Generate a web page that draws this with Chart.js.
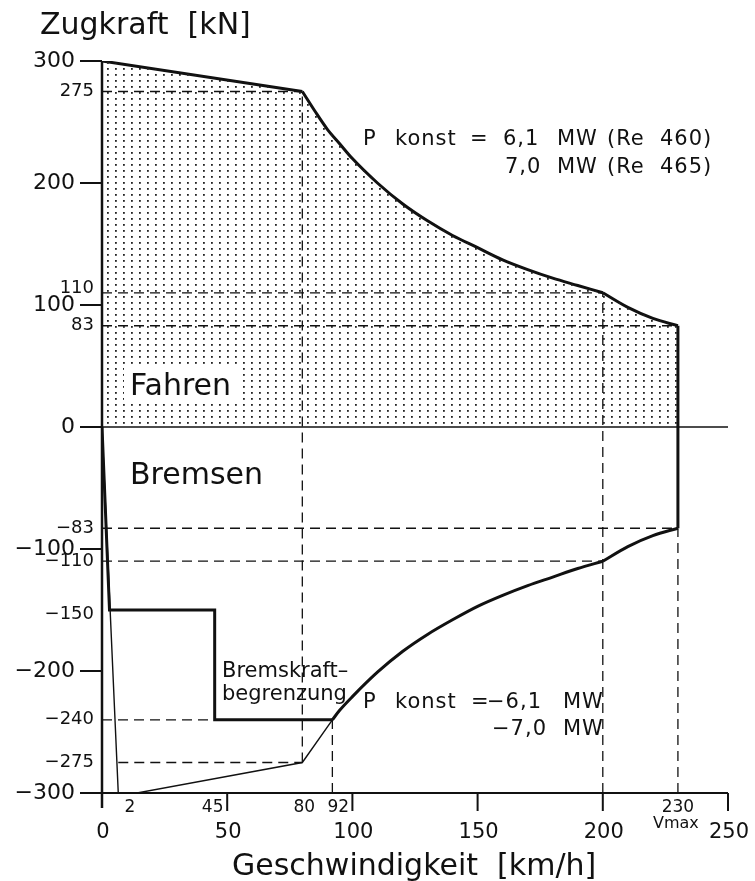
<!DOCTYPE html>
<html>
<head>
<meta charset="utf-8">
<script src="https://cdn.jsdelivr.net/npm/chart.js@4"></script>
<style>
  html, body { margin: 0; padding: 0; background: #fff; }
  #wrap { width: 755px; height: 881px; }
</style>
</head>
<body>
<div id="wrap"><canvas id="chart" width="755" height="881"></canvas></div>
<script>
// Zugkraft / Bremskraft over speed (Re 460 / Re 465)
const speedTicks = [0, 50, 100, 150, 200, 250];
const forceTicks = [300, 200, 100, 0, -100, -200, -300];
const forceMarks = [275, 110, 83, -83, -110, -150, -240, -275];
const speedMarks = [2, 45, 80, 92, 230];

// driving (Fahren): straight part, P konst curve, last part to vmax
const driveLineSpeed = [0, 80];
const driveLineForce = [300, 275];
const driveCurveSpeed = [80, 85, 90, 95, 100, 110, 120, 130, 140, 150, 160, 170, 180, 190, 200];
const driveCurveForce = [275, 259, 244, 232, 220, 200, 183, 169, 157, 147, 137, 129, 122, 116, 110];
const driveTopSpeed = [200, 210, 220, 230];
const driveTopForce = [110, 98, 89, 83];

// braking (Bremsen)
const brakeLimitSpeed = [0, 3, 45, 45, 92];
const brakeLimitForce = [0, -150, -150, -240, -240];
const brakeCurveSpeed = [92, 95, 100, 110, 120, 130, 140, 150, 160, 170, 180, 190, 200];
const brakeCurveForce = [-240, -232, -221, -201, -184, -170, -158, -147, -138, -130, -123, -116, -110];
const brakeTopSpeed = [200, 210, 220, 230];
const brakeTopForce = [-110, -98, -89, -83];
const vmaxEdgeSpeed = [230, 230];
const vmaxEdgeForce = [83, -83];

// thin line under the limit
const thinSpeed = [0, 6.5, 14, 80, 92];
const thinForce = [0, -300, -300, -275, -240];

// dashed helper lines: [force, fromSpeed, toSpeed] and [speed, fromForce, toForce]
const dashH = [[275, 0, 80], [110, 0, 200], [83, 0, 230], [-83, 0, 230], [-110, 0, 200], [-240, 0, 45], [-275, 6.5, 80]];
const dashV = [[80, -275, 275], [200, -300, 110], [230, -300, -83], [92, -300, -240]];

const INK = "#111";
const FONT = '"DejaVu Sans", sans-serif';

function zip(xs, ys) {
  return xs.map((x, i) => ({ x, y: ys[i] }));
}

// dotted fill
function dotPattern() {
  const c = document.createElement("canvas");
  c.width = 8; c.height = 6;
  const g = c.getContext("2d");
  g.fillStyle = "#222";
  g.fillRect(3, 2, 1.8, 1.8);
  return g.createPattern(c, "repeat");
}

const datasets = [];
// area only
datasets.push({
  data: zip(driveLineSpeed.concat(driveCurveSpeed.slice(1), driveTopSpeed.slice(1)),
            driveLineForce.concat(driveCurveForce.slice(1), driveTopForce.slice(1))),
  borderWidth: 0, borderColor: "rgba(0,0,0,0)",
  backgroundColor: dotPattern(), fill: "origin"
});
function thick(xs, ys, smooth) {
  datasets.push({
    data: zip(xs, ys), borderColor: INK, borderWidth: 3, fill: false,
    cubicInterpolationMode: smooth ? "monotone" : "default"
  });
}
thick(driveLineSpeed, driveLineForce, false);
thick(driveCurveSpeed, driveCurveForce, true);
thick(driveTopSpeed, driveTopForce, true);
thick(vmaxEdgeSpeed, vmaxEdgeForce, false);
thick(brakeTopSpeed, brakeTopForce, true);
thick(brakeCurveSpeed, brakeCurveForce, true);
thick(brakeLimitSpeed, brakeLimitForce, false);
datasets.push({ data: zip(thinSpeed, thinForce), borderColor: INK, borderWidth: 1.4, fill: false });
dashH.forEach(([f, a, b]) => {
  datasets.push({ data: [{ x: a, y: f }, { x: b, y: f }], borderColor: INK, borderWidth: 1.3, borderDash: [10, 6], fill: false });
});
dashV.forEach(([v, a, b]) => {
  datasets.push({ data: [{ x: v, y: a }, { x: v, y: b }], borderColor: INK, borderWidth: 1.3, borderDash: [10, 6], fill: false });
});

function words(ctx, list, y) {
  list.forEach(([t, x]) => ctx.fillText(t, x, y));
}

const decor = {
  id: "decor",
  afterDraw(chart) {
    const ctx = chart.ctx;
    const xs = chart.scales.x, ys = chart.scales.y;
    const x0 = xs.getPixelForValue(0), xEnd = xs.getPixelForValue(250);
    const yBot = ys.getPixelForValue(-300), yZero = ys.getPixelForValue(0);
    ctx.save();
    ctx.strokeStyle = INK;
    ctx.fillStyle = INK;

    // axes
    ctx.lineWidth = 2.5;
    ctx.beginPath();
    ctx.moveTo(x0, ys.getPixelForValue(300));
    ctx.lineTo(x0, yBot + 15);
    ctx.stroke();
    ctx.lineWidth = 2;
    ctx.beginPath();
    ctx.moveTo(x0 - 22, yBot);
    ctx.lineTo(xEnd, yBot);
    ctx.stroke();
    ctx.lineWidth = 1.5;
    ctx.beginPath();
    ctx.moveTo(x0 - 22, yZero);
    ctx.lineTo(xEnd, yZero);
    ctx.stroke();

    // tick marks
    ctx.lineWidth = 2;
    forceTicks.forEach(v => {
      const y = ys.getPixelForValue(v);
      ctx.beginPath(); ctx.moveTo(x0 - 22, y); ctx.lineTo(x0, y); ctx.stroke();
    });
    speedTicks.slice(1).forEach(v => {
      const x = xs.getPixelForValue(v);
      ctx.beginPath(); ctx.moveTo(x, yBot); ctx.lineTo(x, yBot + 18); ctx.stroke();
    });

    // y labels
    ctx.textAlign = "right";
    ctx.textBaseline = "middle";
    ctx.font = "22px " + FONT;
    forceTicks.forEach(v => ctx.fillText(String(v).replace("-", "\u2212"), 75, ys.getPixelForValue(v)));
    ctx.font = "18px " + FONT;
    forceMarks.forEach(v => {
      const dy = v === -150 ? 4 : (v === 110 ? -4 : 0);
      ctx.fillText(String(v).replace("-", "\u2212"), 94, ys.getPixelForValue(v) + dy);
    });

    // x labels
    ctx.textAlign = "center";
    ctx.textBaseline = "alphabetic";
    ctx.font = "21px " + FONT;
    speedTicks.forEach(v => ctx.fillText(String(v), xs.getPixelForValue(v) + 1, 838));
    ctx.font = "17px " + FONT;
    const markShift = { 2: 23, 45: -2, 80: 2, 92: 6, 230: 0 };
    speedMarks.forEach(v => ctx.fillText(String(v), xs.getPixelForValue(v) + markShift[v], 812));
    ctx.font = "16px " + FONT;
    ctx.fillText("Vmax", xs.getPixelForValue(230) - 2, 828);

    // titles
    ctx.textAlign = "left";
    ctx.font = "30px " + FONT;
    ctx.fillText("Zugkraft  [kN]", 40, 34);
    ctx.fillText("Geschwindigkeit  [km/h]", 232, 875);

    // region labels
    const fw = ctx.measureText("Fahren").width;
    ctx.fillStyle = "#fff";
    ctx.fillRect(124, 366, fw + 12, 35);
    ctx.fillStyle = INK;
    ctx.fillText("Fahren", 130, 395);
    ctx.fillText("Bremsen", 130, 484);

    // annotations
    ctx.letterSpacing = "1px";
    ctx.font = "21px " + FONT;
    words(ctx, [["P", 363], ["konst", 395], ["=", 470], ["6,1", 503], ["MW", 557], ["(Re", 607], ["460)", 660]], 145);
    words(ctx, [["7,0", 505], ["MW", 557], ["(Re", 607], ["465)", 660]], 173);
    words(ctx, [["P", 363], ["konst", 395], ["=", 471], ["\u22126,1", 487], ["MW", 563]], 708);
    words(ctx, [["\u22127,0", 492], ["MW", 563]], 735);
    ctx.letterSpacing = "0px";
    ctx.font = "21px " + FONT;
    ctx.fillText("Bremskraft\u2013", 222, 677);
    ctx.fillText("begrenzung", 222, 700);
    ctx.restore();
  }
};

new Chart(document.getElementById("chart"), {
  type: "scatter",
  data: { datasets },
  options: {
    responsive: false,
    animation: false,
    devicePixelRatio: 1,
    layout: { padding: { left: 102, right: 27, top: 61, bottom: 88 } },
    showLine: true,
    elements: { point: { radius: 0, hoverRadius: 0 }, line: { tension: 0 } },
    plugins: { legend: { display: false }, tooltip: { enabled: false } },
    scales: {
      x: { type: "linear", min: 0, max: 250, display: false },
      y: { type: "linear", min: -300, max: 300, display: false }
    }
  },
  plugins: [decor]
});
</script>
</body>
</html>
